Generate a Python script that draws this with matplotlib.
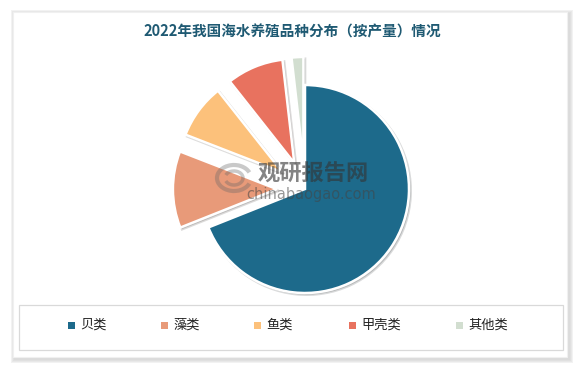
import numpy as np
import matplotlib
matplotlib.use('Agg')
import matplotlib.pyplot as plt
from matplotlib.patches import Rectangle, Arc

plt.rcParams['font.family'] = ['Noto Sans CJK SC', 'DejaVu Sans']

# data: 2022 mariculture output (10k tonnes)
categories = ['贝类', '藻类', '鱼类', '甲壳类', '其他类']
values = [1569.58, 271.39, 192.56, 200.72, 41.45]
colors = ['#1d6a8b', '#e89a79', '#fcc17b', '#e8725f', '#d2ded0']
explode = [0, 0.27, 0.27, 0.27, 0.27]

W, H = 582, 365
fig = plt.figure(figsize=(W / 100, H / 100), dpi=100)
fig.patch.set_facecolor('white')

# card with soft shadow
bg = fig.add_axes([0, 0, 1, 1])
bg.set_xlim(0, W)
bg.set_ylim(H, 0)
bg.axis('off')
for i, a in enumerate([0.05, 0.04, 0.03, 0.02]):
    d = 4 - i
    bg.add_patch(Rectangle((13 - d + 2, 12 - d + 2), 554 + 2 * d, 345 + 2 * d,
                           facecolor='#000000', alpha=a, edgecolor='none'))
bg.add_patch(Rectangle((13, 12), 554, 345, facecolor='white', edgecolor='#f0f0f0', lw=0.8))
# legend box
bg.add_patch(Rectangle((19, 305), 544, 45, facecolor='white', edgecolor='#d9d9d9', lw=0.9))

bg.text(292, 32, '2022年我国海水养殖品种分布（按产量）情况', ha='center', va='center',
        fontsize=10.5, fontweight='bold', color='#1f5a73')

# legend entries
leg_x = [71, 164, 257, 352, 459]
for x, lab, c in zip(leg_x, categories, colors):
    bg.add_patch(Rectangle((x - 3, 322), 7, 7, facecolor=c, edgecolor='none'))
    bg.text(x + 9, 325.5, lab, ha='left', va='center', fontsize=9.5, color='#222222')

# pie
cx, cy, r = 305, 189, 104
half = 150
ax = fig.add_axes([(cx - half) / W, (H - cy - half) / H, 2 * half / W, 2 * half / H])
lim = half / r
wedges, _ = ax.pie(values, colors=colors, explode=explode, startangle=90,
                   counterclock=False, radius=1,
                   wedgeprops=dict(edgecolor='white', linewidth=1.8),
                   shadow=dict(ox=0.012, oy=-0.012, shade=0.9, alpha=0.15))
ax.set_xlim(-lim, lim)
ax.set_ylim(-lim, lim)
ax.set_aspect('auto')
ax.axis('off')

# watermark on top
top = fig.add_axes([0, 0, 1, 1])
top.set_xlim(0, W)
top.set_ylim(H, 0)
top.axis('off')
top.patch.set_alpha(0)
top.text(313, 174, '观研报告网', ha='center', va='center', fontsize=16,
         fontweight='bold', color='#333333', alpha=0.6)
top.text(311, 195, 'chinabaogao.com', ha='center', va='center', fontsize=10.5,
         color='#444444', alpha=0.55, family='DejaVu Sans')
top.add_patch(Arc((234, 178), 34, 26, theta1=20, theta2=340, lw=3, color='#666666', alpha=0.35))
top.add_patch(Arc((234, 178), 18, 14, theta1=200, theta2=160, lw=2.5, color='#666666', alpha=0.35))

fig.savefig('out.png', dpi=100)
